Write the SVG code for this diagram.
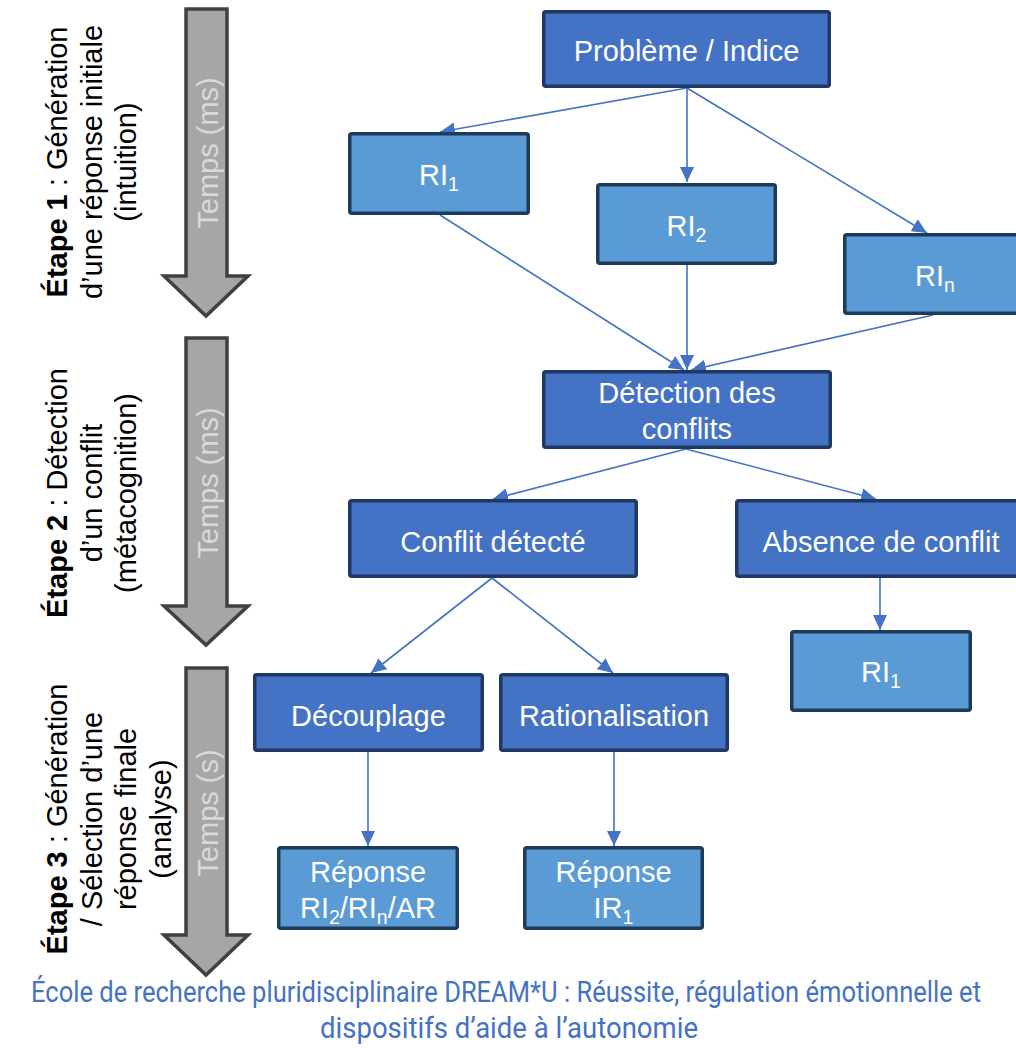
<svg xmlns="http://www.w3.org/2000/svg" width="1016" height="1048" viewBox="0 0 1016 1048">
  <style>
    .dark { fill: #4472C4; stroke: #1F3864; stroke-width: 3.5; }
    .light { fill: #5B9BD5; stroke: #1F3B5A; stroke-width: 3.5; }
    .lbl { font-family: "Liberation Sans", Arial, sans-serif; font-size: 29px; fill: #FFFFFF; text-anchor: middle; }
    .sub { font-size: 19.5px; }
    .stage { font-family: "Liberation Sans", Arial, sans-serif; font-size: 29px; fill: #000000; text-anchor: middle; }
    .time { font-family: "Liberation Sans", Arial, sans-serif; font-size: 29px; fill: #D9D9D9; text-anchor: middle; }
    .timearrow { fill: #A6A6A6; stroke: #404040; stroke-width: 3.5; stroke-linejoin: miter; }
    .conn line { stroke: #4472C4; stroke-width: 1.6; fill: none; marker-end: url(#tip); }
    .foot { font-family: "Roboto", "Liberation Sans", sans-serif; font-size: 24px; fill: #4472C4; text-anchor: middle; }
  </style>
  <defs>
    <marker id="tip" markerUnits="userSpaceOnUse" markerWidth="16" markerHeight="14" viewBox="0 0 16 14" refX="15" refY="7" orient="auto">
      <path d="M0,0 L15,7 L0,14 Z" fill="#4472C4"/>
    </marker>
  </defs>

  <rect width="1016" height="1048" fill="#FFFFFF"/>

  <!-- time arrows -->
  <g id="time-arrow-1">
    <path class="timearrow" d="M186,9 H227 V276 H248 L206,316 L164,276 H186 Z"/>
    <text class="time" transform="translate(218,153) rotate(-90)">Temps (ms)</text>
  </g>
  <g id="time-arrow-2">
    <path class="timearrow" d="M186,338 H227 V606 H248 L206,645 L164,606 H186 Z"/>
    <text class="time" transform="translate(218,483) rotate(-90)">Temps (ms)</text>
  </g>
  <g id="time-arrow-3">
    <path class="timearrow" d="M186,668 H227 V935 H248 L206,975 L164,935 H186 Z"/>
    <text class="time" transform="translate(218,813) rotate(-90)">Temps (s)</text>
  </g>

  <!-- stage labels -->
  <g id="stage-1" transform="translate(0,162)">
    <text class="stage" transform="translate(67,0) rotate(-90)"><tspan font-weight="bold">Étape 1</tspan> : Génération</text>
    <text class="stage" transform="translate(101.5,0) rotate(-90)">d’une réponse initiale</text>
    <text class="stage" transform="translate(136,0) rotate(-90)">(intuition)</text>
  </g>
  <g id="stage-2" transform="translate(0,493)">
    <text class="stage" transform="translate(67,0) rotate(-90)"><tspan font-weight="bold">Étape 2</tspan> : Détection</text>
    <text class="stage" transform="translate(101.5,0) rotate(-90)">d’un conflit</text>
    <text class="stage" transform="translate(136,0) rotate(-90)">(métacognition)</text>
  </g>
  <g id="stage-3" transform="translate(0,819)">
    <text class="stage" transform="translate(67,0) rotate(-90)"><tspan font-weight="bold">Étape 3</tspan> : Génération</text>
    <text class="stage" transform="translate(101.5,0) rotate(-90)">/ Sélection d’une</text>
    <text class="stage" transform="translate(136,0) rotate(-90)">réponse finale</text>
    <text class="stage" transform="translate(170.5,0) rotate(-90)">(analyse)</text>
  </g>

  <!-- connectors -->
  <g id="connectors" class="conn">
    <line x1="687" y1="88" x2="440" y2="132"/>
    <line x1="687" y1="88" x2="687" y2="182"/>
    <line x1="687" y1="88" x2="927" y2="233"/>
    <line x1="440" y1="215" x2="684" y2="370"/>
    <line x1="687" y1="265" x2="687" y2="370"/>
    <line x1="933" y1="315" x2="691" y2="370"/>
    <line x1="686" y1="449" x2="493" y2="499"/>
    <line x1="686" y1="449" x2="876" y2="499"/>
    <line x1="880" y1="578" x2="880" y2="630"/>
    <line x1="492" y1="578" x2="371" y2="673"/>
    <line x1="492" y1="578" x2="613" y2="673"/>
    <line x1="368" y1="752" x2="368" y2="846"/>
    <line x1="614" y1="752" x2="614" y2="846"/>
  </g>

  <!-- nodes -->
  <g id="probleme">
    <rect class="dark" x="543.75" y="11.75" width="285.5" height="74.5" rx="2"/>
    <text class="lbl" x="686.5" y="61">Problème / Indice</text>
  </g>
  <g id="ri1">
    <rect class="light" x="349.75" y="133.75" width="178.5" height="79.5" rx="2"/>
    <text class="lbl" x="439" y="185">RI<tspan class="sub" dy="6">1</tspan></text>
  </g>
  <g id="ri2">
    <rect class="light" x="597.75" y="184.75" width="177.5" height="78.5" rx="2"/>
    <text class="lbl" x="686.5" y="236">RI<tspan class="sub" dy="6">2</tspan></text>
  </g>
  <g id="rin">
    <rect class="light" x="844.75" y="234.75" width="180" height="78.5" rx="2"/>
    <text class="lbl" x="935" y="286">RI<tspan class="sub" dy="6">n</tspan></text>
  </g>
  <g id="detection">
    <rect class="dark" x="543.75" y="371.75" width="286.5" height="75.5" rx="2"/>
    <text class="lbl" x="687" y="403">Détection des</text>
    <text class="lbl" x="687" y="439">conflits</text>
  </g>
  <g id="conflit-detecte">
    <rect class="dark" x="349.75" y="500.75" width="286.5" height="75.5" rx="2"/>
    <text class="lbl" x="493" y="552">Conflit détecté</text>
  </g>
  <g id="absence-conflit">
    <rect class="dark" x="736.75" y="500.75" width="290" height="75.5" rx="2"/>
    <text class="lbl" x="881" y="552">Absence de conflit</text>
  </g>
  <g id="ri1-direct">
    <rect class="light" x="791.75" y="631.75" width="178.5" height="78.5" rx="2"/>
    <text class="lbl" x="881" y="682">RI<tspan class="sub" dy="6">1</tspan></text>
  </g>
  <g id="decouplage">
    <rect class="dark" x="254.75" y="674.75" width="227.5" height="75.5" rx="2"/>
    <text class="lbl" x="368.5" y="726">Découplage</text>
  </g>
  <g id="rationalisation">
    <rect class="dark" x="500.75" y="674.75" width="226.5" height="75.5" rx="2"/>
    <text class="lbl" x="614" y="726">Rationalisation</text>
  </g>
  <g id="reponse-1">
    <rect class="light" x="278.75" y="847.75" width="178.5" height="80.5" rx="2"/>
    <text class="lbl" x="368" y="882">Réponse</text>
    <text class="lbl" x="368" y="918">RI<tspan class="sub" dy="6">2</tspan><tspan dy="-6">/RI</tspan><tspan class="sub" dy="6">n</tspan><tspan dy="-6">/AR</tspan></text>
  </g>
  <g id="reponse-2">
    <rect class="light" x="524.75" y="847.75" width="177.5" height="80.5" rx="2"/>
    <text class="lbl" x="613.5" y="882">Réponse</text>
    <text class="lbl" x="613.5" y="918">IR<tspan class="sub" dy="6">1</tspan></text>
  </g>

  <!-- footer: condensed look from a vertical stretch -->
  <g id="footer">
    <text class="foot" transform="translate(506,1002) scale(1,1.2)" x="0" y="0" textLength="950" lengthAdjust="spacingAndGlyphs">École de recherche pluridisciplinaire DREAM*U : Réussite, régulation émotionnelle et</text>
    <text class="foot" transform="translate(509,1038) scale(1,1.2)" x="0" y="0" textLength="378" lengthAdjust="spacingAndGlyphs">dispositifs d’aide à l’autonomie</text>
  </g>
</svg>
